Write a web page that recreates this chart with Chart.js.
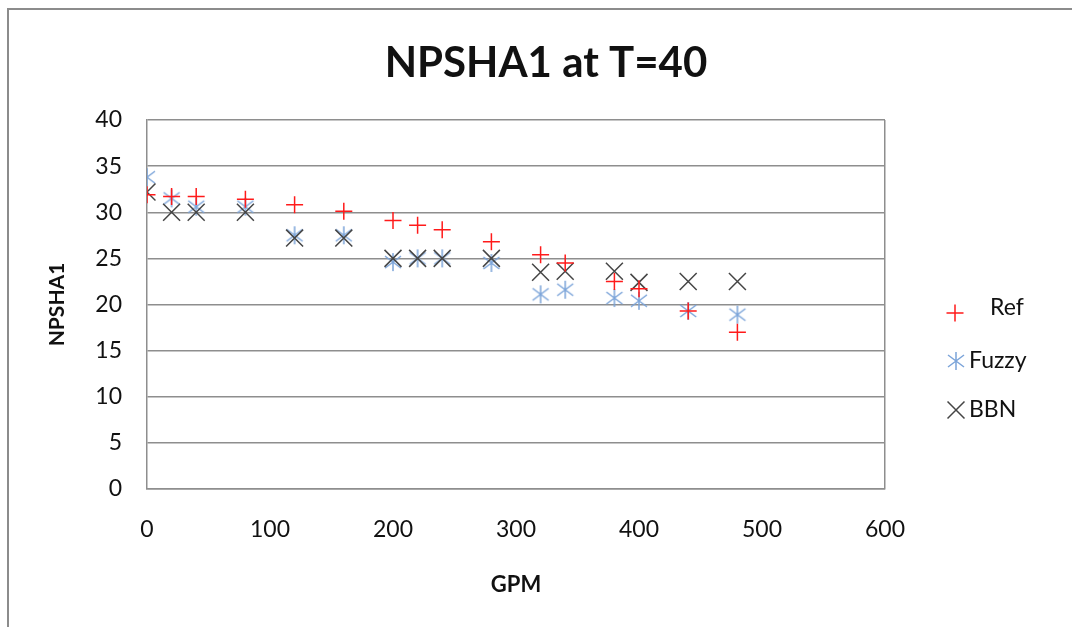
<!DOCTYPE html>
<html>
<head>
<meta charset="utf-8">
<title>NPSHA1 at T=40</title>
<script src="https://cdn.jsdelivr.net/npm/chart.js@4.4.0/dist/chart.umd.min.js"></script>
<style>
    html, body { margin: 0; padding: 0; background: #fff; overflow: hidden; }
    #wrap { position: relative; width: 1072px; height: 627px; }
</style>
</head>
<body>
<div id="wrap"><canvas id="npshaChart"></canvas></div>

<script>
// --- Dữ liệu ---
const gpm = [0, 20, 40, 80, 120, 160, 200, 220, 240, 280, 320, 340, 380, 400, 440, 480];
const refValues   = [31.9, 31.7, 31.7, 31.4, 30.8, 30.1, 29.1, 28.6, 28.1, 26.8, 25.4, 24.5, 22.5, 21.7, 19.3, 17.0];
const fuzzyValues = [33.8, 31.5, 30.6, 30.6, 27.5, 27.5, 24.6, 25.0, 25.0, 24.5, 21.1, 21.6, 20.7, 20.4, 19.3, 18.9];
const bbnValues   = [32.2, 30.0, 30.0, 30.0, 27.2, 27.2, 25.0, 25.0, 25.0, 25.0, 23.5, 23.6, 23.6, 22.4, 22.5, 22.5];

const xTicks = [0, 100, 200, 300, 400, 500, 600];
const yTicks = [0, 5, 10, 15, 20, 25, 30, 35, 40];

const FONT = 'Lato, "Open Sans", sans-serif';
const gridColor = '#8e8e8e';

function toPoints(values) {
    return gpm.map((x, i) => ({ x: x, y: values[i] }));
}

// Dấu sao 6 cánh cho chuỗi Fuzzy
function makeStarMarker(color) {
    const c = document.createElement('canvas');
    c.width = 20; c.height = 20;
    const g = c.getContext('2d');
    g.strokeStyle = color;
    g.lineWidth = 1.5;
    g.beginPath();
    g.moveTo(10, 1); g.lineTo(10, 19);
    g.moveTo(2, 4); g.lineTo(18, 16);
    g.moveTo(2, 16); g.lineTo(18, 4);
    g.stroke();
    return c;
}

const starMarker = makeStarMarker('#7ba4d9');

// Datasets: phần tử đầu vẽ trên cùng
const datasets = [
    {
        label: 'Ref',
        data: toPoints(refValues),
        pointStyle: 'cross',
        pointRadius: 8.5,
        pointBorderWidth: 1.5,
        borderColor: '#ff1a1a',
        backgroundColor: '#ff1a1a'
    },
    {
        label: 'BBN',
        data: toPoints(bbnValues),
        pointStyle: 'crossRot',
        pointRadius: 12,
        pointBorderWidth: 1.5,
        borderColor: '#454545',
        backgroundColor: '#454545'
    },
    {
        label: 'Fuzzy',
        data: toPoints(fuzzyValues),
        pointStyle: starMarker,
        pointRadius: 10,
        borderColor: '#7ba4d9',
        backgroundColor: '#7ba4d9'
    }
];

// Khung ngoài: chỉ cạnh trái và cạnh trên
const outerFrame = {
    id: 'outerFrame',
    beforeDraw(chart) {
        const ctx = chart.ctx;
        ctx.save();
        ctx.strokeStyle = '#8c8c8c';
        ctx.lineWidth = 2;
        ctx.beginPath();
        ctx.moveTo(8, chart.height);
        ctx.lineTo(8, 9);
        ctx.lineTo(chart.width, 9);
        ctx.stroke();
        ctx.restore();
    }
};

// Chú thích bên phải (thứ tự: Ref, Fuzzy, BBN)
const legendOrder = [
    { ds: 0, mx: 955, my: 313, tx: 990, ty: 308 },
    { ds: 2, mx: 956, my: 361, tx: 969, ty: 361 },
    { ds: 1, mx: 956, my: 410, tx: 969, ty: 410 }
];

const sideLegend = {
    id: 'sideLegend',
    afterDraw(chart) {
        const ctx = chart.ctx;
        ctx.save();
        legendOrder.forEach(item => {
            const ds = chart.data.datasets[item.ds];
            ctx.strokeStyle = ds.borderColor;
            ctx.fillStyle = ds.backgroundColor;
            ctx.lineWidth = ds.pointBorderWidth || 1.5;
            Chart.helpers.drawPoint(ctx, {
                pointStyle: ds.pointStyle,
                radius: ds.pointRadius,
                borderWidth: ds.pointBorderWidth || 1.5,
                rotation: 0
            }, item.mx, item.my);
            ctx.fillStyle = '#111';
            ctx.font = '23px ' + FONT;
            ctx.textAlign = 'left';
            ctx.textBaseline = 'middle';
            ctx.fillText(ds.label, item.tx, item.ty);
        });
        ctx.restore();
    }
};

new Chart(document.getElementById('npshaChart'), {
    type: 'scatter',
    data: { datasets: datasets },
    options: {
        responsive: true,
        maintainAspectRatio: false,
        animation: false,
        layout: { padding: { left: 20, right: 0, top: 0, bottom: 0 } },
        scales: {
            x: {
                type: 'linear',
                min: 0, max: 600,
                afterBuildTicks: s => { s.ticks = xTicks.map(v => ({ value: v })); },
                afterFit: s => { s.height = 138; },
                grid: {
                    drawTicks: false,
                    color: c => (c.tick && c.tick.value === 600) ? gridColor : 'transparent',
                    lineWidth: 1.5
                },
                border: { display: true, color: gridColor, width: 1.5 },
                ticks: { padding: 27, color: '#111', font: { family: FONT, size: 23 } },
                title: {
                    display: true, text: 'GPM', color: '#111',
                    font: { family: FONT, size: 22, weight: 'bold' },
                    padding: { top: 0, bottom: 29 }
                }
            },
            y: {
                type: 'linear',
                min: 0, max: 40,
                afterBuildTicks: s => { s.ticks = yTicks.map(v => ({ value: v })); },
                afterFit: s => { s.width = 127; },
                grid: { drawTicks: false, color: gridColor, lineWidth: 1.5 },
                border: { display: true, color: gridColor, width: 1.5 },
                ticks: { padding: 25, color: '#111', font: { family: FONT, size: 23 } },
                title: {
                    display: true, text: 'NPSHA1', color: '#111',
                    font: { family: FONT, size: 21, weight: 'bold' },
                    padding: { top: 25, bottom: 0 }
                }
            },
            // trục ẩn chỉ để chừa chỗ cho chú thích
            legendSpace: {
                type: 'linear',
                position: 'right',
                display: true,
                afterFit: s => { s.width = 187; },
                grid: { display: false },
                border: { display: false },
                ticks: { display: false }
            }
        },
        plugins: {
            legend: { display: false },
            tooltip: { enabled: false },
            title: {
                display: true,
                text: 'NPSHA1 at T=40',
                color: '#111',
                font: { family: FONT, size: 42, weight: 'bold' },
                padding: { top: 38, bottom: 31.6 }
            }
        }
    },
    plugins: [outerFrame, sideLegend]
});
</script>
</body>
</html>
